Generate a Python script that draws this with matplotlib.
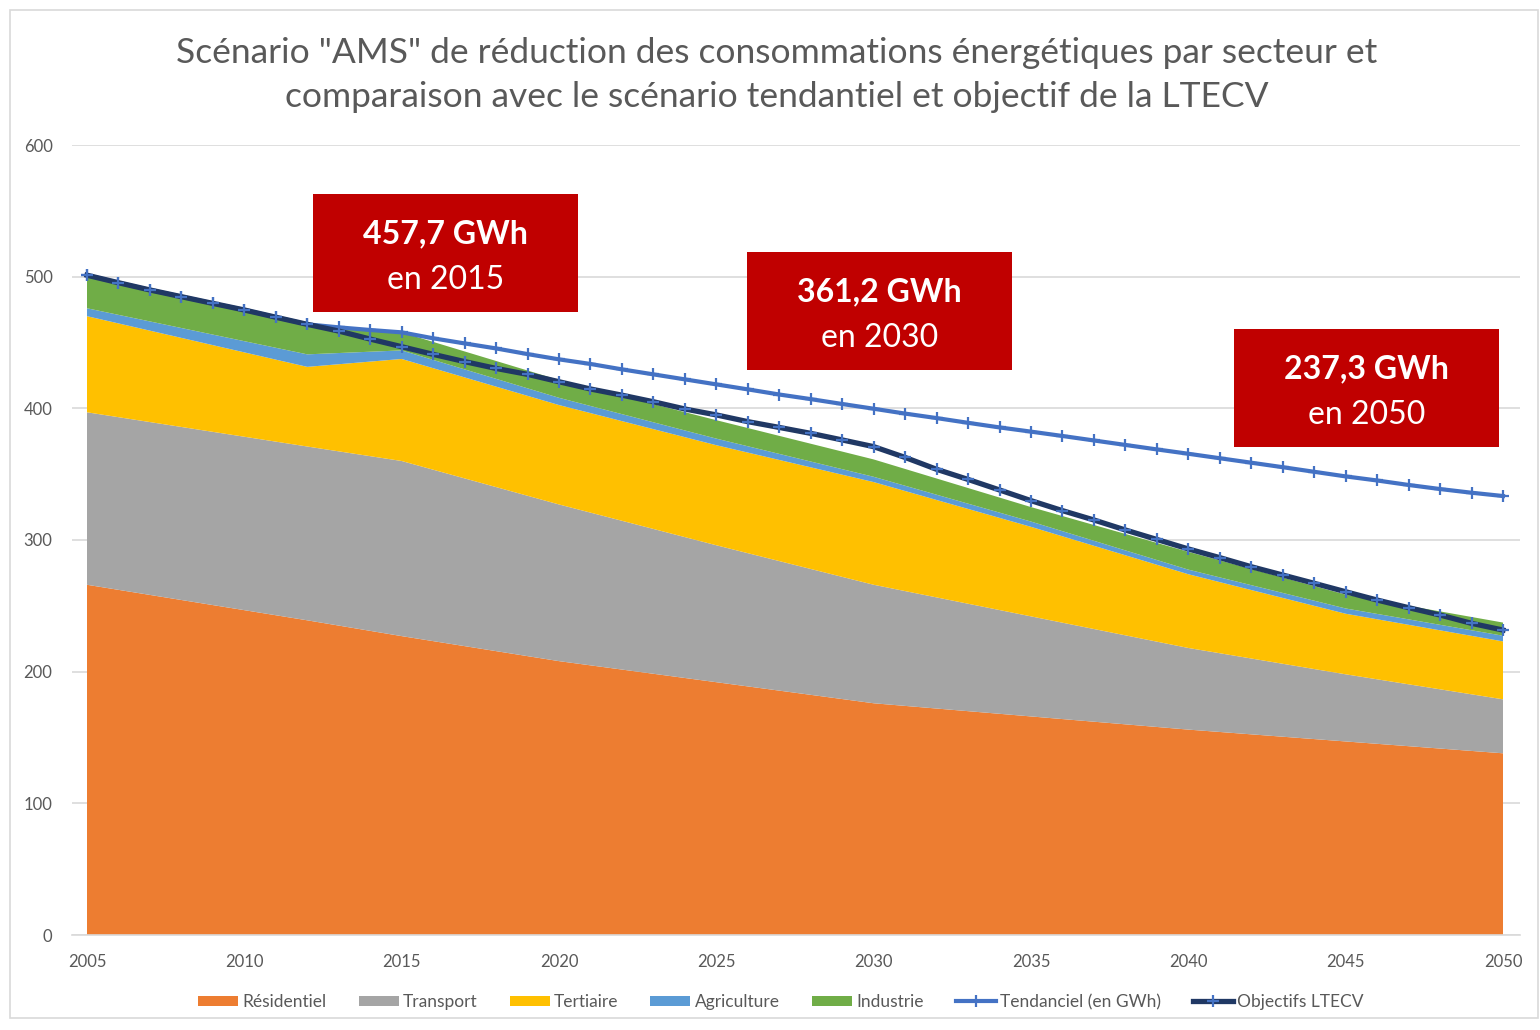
import matplotlib
matplotlib.use("Agg")
import matplotlib.pyplot as plt
from matplotlib.patches import Rectangle, Patch
from matplotlib.lines import Line2D

plt.rcParams["font.family"] = ["Lato", "DejaVu Sans"]

# sector consumption (GWh), stacked areas
YEARS_AREA = [2005, 2012, 2015, 2020, 2025, 2030, 2035, 2040, 2045, 2050]
RESIDENTIEL = [266, 239, 227, 208, 192, 176, 166, 156, 147, 138]
TRANSPORT = [131, 132, 133, 119, 104, 90, 76, 62, 51, 41]
TERTIAIRE = [73, 60.5, 77.5, 75.5, 76, 78, 68, 56, 46, 44]
AGRICULTURE = [6, 9.5, 6.5, 5.5, 5, 4, 4, 3.5, 4, 4.3]
INDUSTRIE = [24, 23, 13.7, 13.5, 14, 13.2, 11, 13.5, 10.5, 10]

# yearly trajectories (GWh)
YEARS = list(range(2005, 2051))
TENDANCIEL = [501.1, 495.4, 489.9, 484.8, 479.7, 474.7, 469.2, 463.8, 461.5, 459.5,
              457.7, 453.2, 449.3, 445.5, 441.2, 437.2, 433.7, 429.6, 425.8, 422.0,
              418.2, 414.4, 410.5, 407.0, 403.3, 399.7, 396.0, 392.6, 389.0, 385.5,
              382.3, 379.0, 375.6, 372.2, 368.8, 365.5, 362.1, 358.7, 355.3, 351.8,
              348.3, 345.2, 341.8, 338.7, 335.9, 333.4]
OBJECTIFS = [501.1, 495.4, 489.9, 484.8, 479.7, 474.7, 469.2, 463.8, 458.7, 452.6,
             446.8, 441.0, 435.5, 430.3, 425.8, 420.2, 414.7, 410.0, 405.0, 399.5,
             395.0, 389.9, 385.5, 381.0, 376.0, 370.9, 362.7, 353.7, 346.0, 338.0,
             329.9, 322.3, 315.2, 307.6, 300.4, 293.2, 286.6, 279.7, 273.4, 267.1,
             260.7, 254.4, 248.6, 243.0, 236.7, 231.6]

SECTORS = ["Résidentiel", "Transport", "Tertiaire", "Agriculture", "Industrie"]
SECTOR_COLORS = ["#ED7D31", "#A5A5A5", "#FFC000", "#5B9BD5", "#70AD47"]
CALLOUT_BOLD = ["457,7 GWh", "361,2 GWh", "237,3 GWh"]
CALLOUT_SUB = ["en 2015", "en 2030", "en 2050"]

TITLE = ("Scénario \"AMS\" de réduction des consommations énergétiques par secteur et\n"
         "comparaison avec le scénario tendantiel et objectif de la LTECV")
GREY = "#595959"

fig = plt.figure(figsize=(15.4, 10.3), dpi=100)
ax = fig.add_axes([72 / 1540, 1 - 935 / 1030, 1448 / 1540, 790 / 1030])

ax.stackplot(YEARS_AREA, RESIDENTIEL, TRANSPORT, TERTIAIRE, AGRICULTURE, INDUSTRIE,
             colors=SECTOR_COLORS, labels=SECTORS, lw=0, zorder=2)
ax.plot(YEARS, TENDANCIEL, color="#4472C4", lw=3.0, marker="+", ms=9, mew=1.6,
        mec="#4472C4", zorder=3, label="Tendanciel (en GWh)")
ax.plot(YEARS, OBJECTIFS, color="#203864", lw=3.8, marker="+", ms=9, mew=1.6,
        mec="#4472C4", zorder=4, label="Objectifs LTECV")

ax.set_xlim(2005 - 15 / 31.47, 2050 + 17 / 31.47)
ax.set_ylim(0, 600)
ax.set_xticks(range(2005, 2051, 5))
ax.set_yticks(range(0, 601, 100))
ax.tick_params(axis="both", length=0, labelsize=12, labelcolor=GREY)
ax.tick_params(axis="x", pad=13.5)
ax.tick_params(axis="y", pad=14)
ax.grid(axis="y", color="#D9D9D9", lw=1.2, zorder=0)
ax.set_axisbelow(True)
for s in ["left", "right", "top"]:
    ax.spines[s].set_visible(False)
ax.spines["bottom"].set_color("#D9D9D9")
ax.spines["bottom"].set_linewidth(1.2)

# red callout boxes (axes fraction)
box_pos = [(0.1664, 0.7886), (0.4662, 0.7152), (0.8025, 0.6177)]
bw, bh = 0.183, 0.1494
for (bx, by), big, small in zip(box_pos, CALLOUT_BOLD, CALLOUT_SUB):
    ax.add_patch(Rectangle((bx, by), bw, bh, transform=ax.transAxes,
                           facecolor="#C00000", edgecolor="none", zorder=6, clip_on=False))
    ax.text(bx + bw / 2, by + bh * 0.66, big, transform=ax.transAxes, ha="center",
            va="center", color="white", fontsize=23, fontweight="bold", zorder=7)
    ax.text(bx + bw / 2, by + bh * 0.275, small, transform=ax.transAxes, ha="center",
            va="center", color="white", fontsize=23, zorder=7)

fig.text(777 / 1540, 1 - 75 / 1030, TITLE, ha="center", va="center", fontsize=25.5,
         color=GREY, linespacing=1.45)

handles = [Patch(facecolor=c, edgecolor="none") for c in SECTOR_COLORS]
handles += [Line2D([], [], color="#4472C4", lw=3.0, marker="+", ms=9, mew=1.6),
            Line2D([], [], color="#203864", lw=3.8, marker="+", ms=9, mew=1.6, mec="#4472C4")]
labels = SECTORS + ["Tendanciel (en GWh)", "Objectifs LTECV"]
fig.legend(handles, labels, loc="center", bbox_to_anchor=(781 / 1540, 1 - 1002 / 1030),
           ncol=7, frameon=False, fontsize=12.5, handlelength=2.3, handleheight=0.55,
           handletextpad=0.25, columnspacing=1.85, labelcolor=GREY)

# light frame around the chart
fig.add_artist(Rectangle((10 / 1540, 12 / 1030), 1528 / 1540, 1008 / 1030,
                         transform=fig.transFigure, fill=False, edgecolor="#D9D9D9", lw=1.2))

fig.savefig("out.png", dpi=100)
